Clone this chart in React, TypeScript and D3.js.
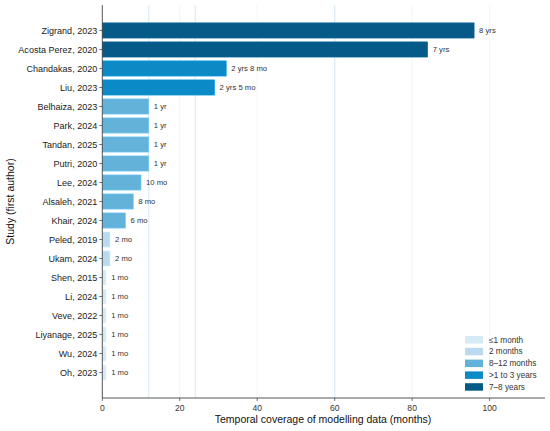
import React from "react";
import * as d3 from "d3";

const studies = [
  "Zigrand, 2023", "Acosta Perez, 2020", "Chandakas, 2020", "Liu, 2023",
  "Belhaiza, 2023", "Park, 2024", "Tandan, 2025", "Putri, 2020", "Lee, 2024",
  "Alsaleh, 2021", "Khair, 2024", "Peled, 2019", "Ukam, 2024", "Shen, 2015",
  "Li, 2024", "Veve, 2022", "Liyanage, 2025", "Wu, 2024", "Oh, 2023",
];
const months = [96, 84, 32, 29, 12, 12, 12, 12, 10, 8, 6, 2, 2, 1, 1, 1, 1, 1, 1];
const valueLabels = [
  "8 yrs", "7 yrs", "2 yrs 8 mo", "2 yrs 5 mo", "1 yr", "1 yr", "1 yr", "1 yr",
  "10 mo", "8 mo", "6 mo", "2 mo", "2 mo", "1 mo", "1 mo", "1 mo", "1 mo", "1 mo", "1 mo",
];
const groups = [
  "7–8 years", "7–8 years", ">1 to 3 years", ">1 to 3 years",
  "8–12 months", "8–12 months", "8–12 months", "8–12 months", "8–12 months",
  "8–12 months", "8–12 months", "2 months", "2 months",
  "≤1 month", "≤1 month", "≤1 month", "≤1 month", "≤1 month", "≤1 month",
];
const legendGroups = ["≤1 month", "2 months", "8–12 months", ">1 to 3 years", "7–8 years"];
const groupColors = ["#d6e9f6", "#bcdaef", "#63b2da", "#0b8ac6", "#065a88"];
const xTicks = [0, 20, 40, 60, 80, 100];
const refLines = [12, 24, 60];

const W = 550, H = 431;
const plotLeft = 102.3, plotRight = 545, plotTop = 5, plotBottom = 398;

export default function App() {
  const x = d3.scaleLinear().domain([0, 114.3]).range([plotLeft, plotRight]);
  const y = d3.scaleBand<string>().domain(studies).range([plotTop, plotBottom]).paddingInner(0.2).paddingOuter(0.94);
  const color = d3.scaleOrdinal<string, string>().domain(legendGroups).range(groupColors);
  const font = "Liberation Sans, Arial, sans-serif";
  return (
    <svg width={W} height={H} style={{ position: "absolute", left: 0, top: 0 }} fontFamily={font}>
      <rect width={W} height={H} fill="#fff" />
      {xTicks.slice(1).map((t) => (
        <line key={"g" + t} x1={x(t)} x2={x(t)} y1={plotTop} y2={plotBottom} stroke="#edf1f5" strokeWidth={0.8} />
      ))}
      {refLines.map((t) => (
        <line key={"r" + t} x1={x(t)} x2={x(t)} y1={plotTop} y2={plotBottom} stroke="#d2e6f3" strokeWidth={0.9} />
      ))}
      {studies.map((s, i) => {
        const cy = y(s)! + y.bandwidth() / 2;
        const c = color(groups[i]);
        return (
          <g key={s}>
            <rect x={x(0)} y={y(s)!} width={x(months[i]) - x(0)} height={y.bandwidth()} fill={c} stroke={d3.color(c)!.brighter(0.4).formatHex()} strokeWidth={0.6} />
            <text x={x(months[i]) + 5} y={cy} dy="0.35em" fontSize={7.7} fill="#333">{valueLabels[i]}</text>
            <line x1={plotLeft - 3} x2={plotLeft} y1={cy} y2={cy} stroke="#333" strokeWidth={0.7} />
            <text x={plotLeft - 5} y={cy} dy="0.35em" textAnchor="end" fontSize={9.05} fill="#222">{s}</text>
          </g>
        );
      })}
      <line x1={plotLeft} x2={plotLeft} y1={plotTop} y2={plotBottom} stroke="#444" strokeWidth={0.9} />
      <line x1={plotLeft} x2={plotRight} y1={plotBottom} y2={plotBottom} stroke="#444" strokeWidth={0.9} />
      {xTicks.map((t) => (
        <g key={"t" + t}>
          <line x1={x(t)} x2={x(t)} y1={plotBottom} y2={plotBottom + 3} stroke="#333" strokeWidth={0.7} />
          <text x={x(t)} y={plotBottom + 12.5} textAnchor="middle" fontSize={8.6} fill="#333">{t}</text>
        </g>
      ))}
      <text x={323} y={423} textAnchor="middle" fontSize={10.5} fill="#111">Temporal coverage of modelling data (months)</text>
      <text transform={`translate(14, ${(plotTop + plotBottom) / 2}) rotate(-90)`} textAnchor="middle" fontSize={10.5} fill="#111">Study (first author)</text>
      {legendGroups.map((g, i) => (
        <g key={g} transform={`translate(465, ${336 + i * 11.8})`}>
          <rect x={0} y={0} width={18} height={7.5} fill={color(g)} />
          <text x={24} y={3.75} dy="0.35em" fontSize={8.2} fill="#333">{g}</text>
        </g>
      ))}
    </svg>
  );
}
